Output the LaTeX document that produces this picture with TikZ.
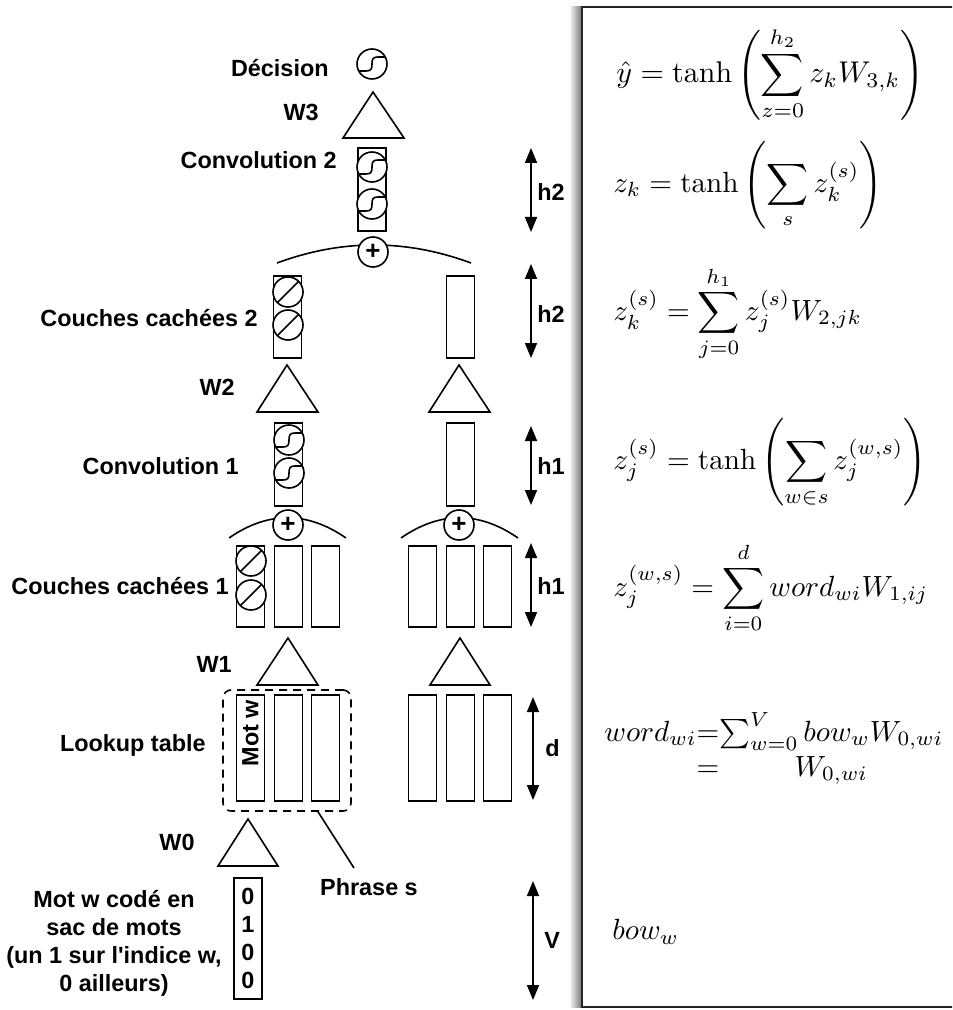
\documentclass[tikz,border=0pt]{standalone}
\usepackage{amsmath}
\usepackage{graphicx}
\usepackage{fontspec}
\setsansfont{Liberation Sans}
\usetikzlibrary{arrows.meta}
\newcommand{\straightapos}{{\XeTeXglyph\XeTeXcharglyph"0027\relax}}
\begin{document}
\begin{tikzpicture}[x=0.5pt,y=0.5pt,
  lbl/.style={font=\sffamily\bfseries\fontsize{11.7}{14}\selectfont, inner sep=0pt},
  vec/.style={draw, line width=0.8pt, fill=white, minimum width=14pt, inner sep=0pt},
  neuron/.style={circle, draw, line width=0.8pt, fill=white, minimum size=15pt, inner sep=0pt},
  tanhn/.style={neuron, path picture={\draw[line width=0.8pt] ([shift={(-20,-7)}]path picture bounding box.center) -- ++(14,0) .. controls +(5,0) and +(0,-5) .. ++(6,7) .. controls +(0,5) and +(-5,0) .. ++(6,7) -- ++(14,0);}},
  diagn/.style={neuron, path picture={\draw[line width=0.8pt] ([shift={(-20,-20)}]path picture bounding box.center) -- ++(40,40);}},
  plusn/.style={neuron, font=\sffamily\bfseries\fontsize{13}{14}\selectfont},
  tri/.style={draw, line width=0.8pt, line join=miter},
  arc/.style={draw, line width=0.8pt},
  dim/.style={line width=0.8pt, {Triangle[width=6pt,length=7.5pt]}-{Triangle[width=6pt,length=7.5pt]}},
  eq/.style={anchor=west, inner sep=0pt}
]
\useasboundingbox (0,0) rectangle (952,-1010);
\clip (0,0) rectangle (952,-1010);

% equation panel
\shade[left color=white, right color=black!55] (569,-7) rectangle (582,-1007);
\draw[line width=1pt, black!85, fill=white] (582,-7) rectangle (975,-1007);

\node[eq] (e1) at (616,-74) {\scalebox{1.5}{$\displaystyle \hat{y} = \tanh\left(\sum_{z=0}^{h_2} z_k W_{3,k}\right)$}};
\node[eq] (e2) at (613,-185) {\scalebox{1.46}{$\displaystyle z_k = \tanh\left(\sum_{s} z_k^{(s)}\right)$}};
\node[eq] (e3) at (613,-314) {\scalebox{1.46}{$\displaystyle z_k^{(s)} = \sum_{j=0}^{h_1} z_j^{(s)} W_{2,jk}$}};
\node[eq] (e4) at (613,-463) {\scalebox{1.46}{$\displaystyle z_j^{(s)} = \tanh\left(\sum_{w\in s} z_j^{(w,s)}\right)$}};
\node[eq] (e5) at (613,-588) {\scalebox{1.46}{$\displaystyle z_j^{(w,s)} = \sum_{i=0}^{d} word_{wi} W_{1,ij}$}};
\node[eq] (e6) at (604,-750) {\scalebox{1.46}{$\begin{array}{@{}c@{}c@{}c@{}} word_{wi} & = & \sum_{w=0}^{V} bow_w W_{0,wi}\\ & = & W_{0,wi}\end{array}$}};
\node[eq] (e7) at (612,-932) {\scalebox{1.46}{$bow_w$}};

% top: decision
\node[tanhn] (dec) at (372,-64) {};
\draw[tri] (343,-138) -- (373,-92) -- (404,-138) -- cycle;

% convolution 2
\node[vec, minimum height=41.5pt] (c2) at (372,-189.5) {};
\node[tanhn] (c2n1) at (372,-167) {};
\node[tanhn] (c2n2) at (372,-204) {};
\draw[arc] (277,-263) .. controls (342,-239) and (406,-239) .. (471,-263);
\node[plusn] (p3) at (373,-252) {+};

% hidden layers 2
\node[vec, minimum height=41pt] (cc2a) at (287.5,-317) {};
\node[diagn] (cc2n1) at (288,-292) {};
\node[diagn] (cc2n2) at (288,-325) {};
\node[vec, minimum height=41pt] (cc2b) at (460.5,-317) {};
\draw[tri] (257,-412) -- (287,-365) -- (318,-412) -- cycle;
\draw[tri] (429,-412) -- (459,-365) -- (490,-412) -- cycle;

% convolution 1
\node[vec, minimum height=41.5pt] (c1a) at (288.5,-464.5) {};
\node[tanhn] (c1n1) at (289,-440) {};
\node[tanhn] (c1n2) at (289,-473) {};
\node[vec, minimum height=41.5pt] (c1b) at (460.5,-464.5) {};
\draw[arc] (229,-538) .. controls (268,-511) and (307,-511) .. (346,-538);
\draw[arc] (401,-538) .. controls (440,-511) and (479,-511) .. (518,-538);
\node[plusn] (p1a) at (288,-525) {+};
\node[plusn] (p1b) at (459,-525) {+};

% hidden layers 1
\foreach \n/\x in {a/250.5,b/288.5,c/325.5,d/422.5,e/460.5,f/497.5}{
  \node[vec, minimum height=40.5pt] (cc1\n) at (\x,-586.5) {};
}
\node[diagn] (cc1n1) at (251,-561) {};
\node[diagn] (cc1n2) at (251,-595) {};
\draw[tri] (257,-685) -- (288,-638) -- (318,-685) -- cycle;
\draw[tri] (430,-685) -- (460,-638) -- (490,-685) -- cycle;

% lookup table
\foreach \n/\x in {a/250.5,b/288.5,c/325.5,d/422.5,e/460.5,f/497.5}{
  \node[vec, minimum height=53pt] (lk\n) at (\x,-748) {};
}
\node[lbl, rotate=90] (motw) at (250.5,-733) {Mot w};
\node[draw, dashed, dash pattern=on 4pt off 3pt, line width=0.8pt, rounded corners=4pt, minimum width=64pt, minimum height=60.5pt] (phrase) at (287,-750.5) {};

% bag of words
\draw[tri] (218,-866) -- (248,-819) -- (278,-866) -- cycle;
\node[vec, minimum height=60.5pt, align=center, font=\sffamily\bfseries\fontsize{11.7}{14}\selectfont] (bow) at (248,-938.5) {0\\1\\0\\0};

\node[lbl] (phr) at (369,-887) {Phrase s};
\draw[line width=0.8pt] ([xshift=15.5pt]phrase.south) -- ([xshift=-7.5pt,yshift=5pt]phr.north);

% labels
\node[lbl, anchor=east] (tdec) at (329,-68) {Décision};
\node[lbl, anchor=east] (tw3) at (319,-112) {W3};
\node[lbl, anchor=east] (tc2) at (337,-160) {Convolution 2};
\node[lbl, anchor=east] (tcc2) at (258,-318) {Couches cachées 2};
\node[lbl, anchor=east] (tw2) at (235,-387) {W2};
\node[lbl, anchor=east] (tc1) at (239,-466) {Convolution 1};
\node[lbl, anchor=east] (tcc1) at (229,-586) {Couches cachées 1};
\node[lbl, anchor=east] (tw1) at (232,-664) {W1};
\node[lbl, anchor=east] (tlk) at (206,-745) {Lookup table};
\node[lbl] (tw0) at (177,-842) {W0};
\node[lbl, align=center] (tbow) at (114,-943) {Mot w codé en\\sac de mots\\(un 1 sur l\straightapos indice w,\\0 ailleurs)};

% dimension arrows
\coordinate (d1t) at (531,-148); \coordinate (d1b) at (531,-232);
\coordinate (d2t) at (531,-264); \coordinate (d2b) at (531,-358);
\coordinate (d3t) at (531,-426); \coordinate (d3b) at (531,-505);
\coordinate (d4t) at (531,-543); \coordinate (d4b) at (531,-627);
\coordinate (d5t) at (533,-697); \coordinate (d5b) at (533,-800);
\coordinate (d6t) at (533,-881); \coordinate (d6b) at (533,-1000);
\draw[dim] (d1t) -- (d1b);
\draw[dim] (d2t) -- (d2b);
\draw[dim] (d3t) -- (d3b);
\draw[dim] (d4t) -- (d4b);
\draw[dim] (d5t) -- (d5b);
\draw[dim] (d6t) -- (d6b);
\node[lbl, anchor=west] (th2a) at (537,-192) {h2};
\node[lbl, anchor=west] (th2b) at (537,-314) {h2};
\node[lbl, anchor=west] (th1a) at (537,-466) {h1};
\node[lbl, anchor=west] (th1b) at (537,-586) {h1};
\node[lbl, anchor=west] (td) at (545,-748) {d};
\node[lbl, anchor=west] (tv) at (544,-940) {V};
\end{tikzpicture}
\end{document}
